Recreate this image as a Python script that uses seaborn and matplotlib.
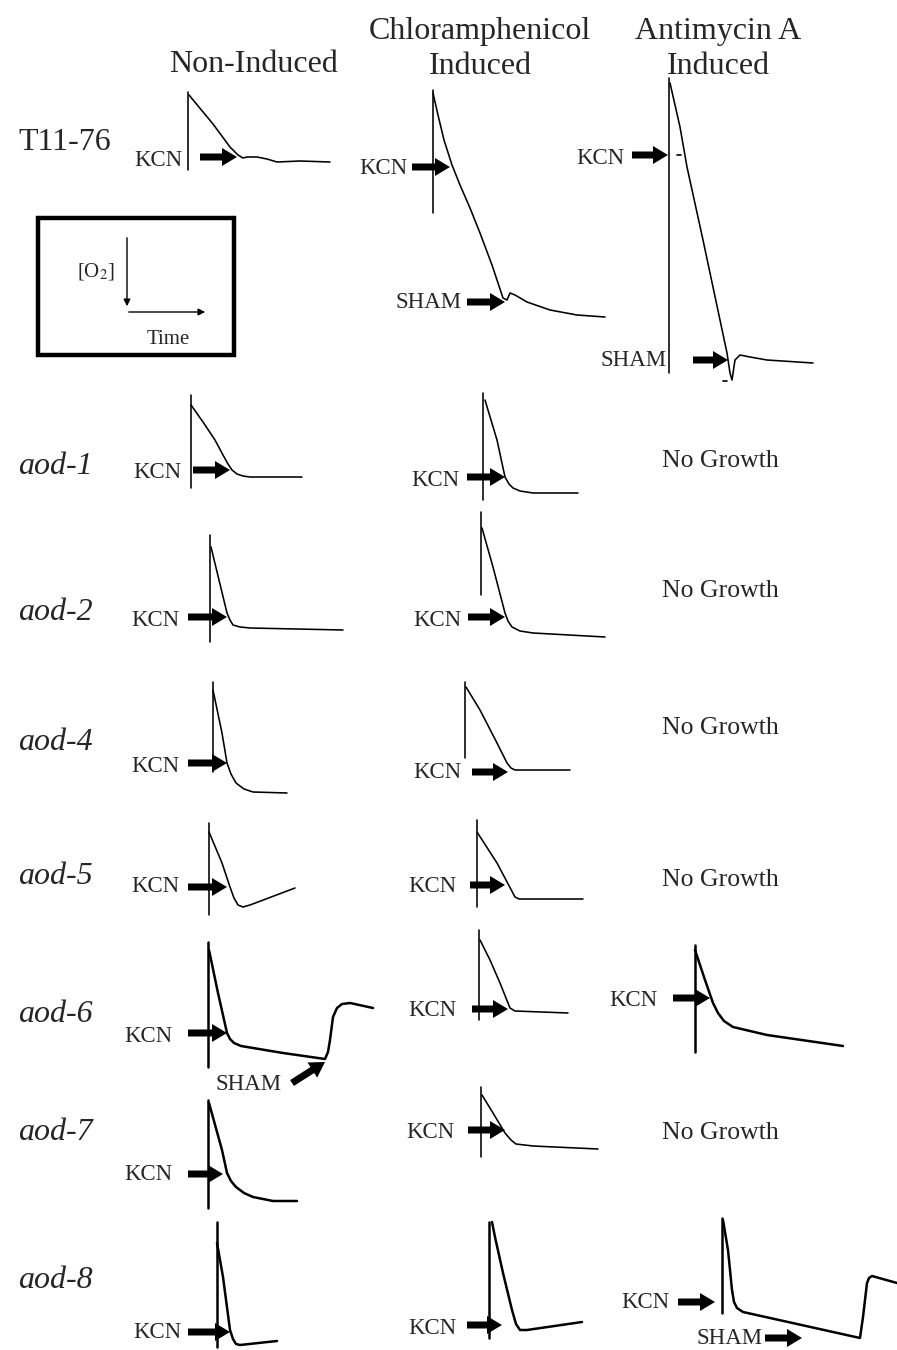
import numpy as np
import seaborn as sns
import pandas as pd
import matplotlib.pyplot as plt
from matplotlib.patches import Rectangle

sns.set_style('white')
plt.rcParams['font.family'] = ['Liberation Serif', 'DejaVu Serif']
plt.rcParams['mathtext.fontset'] = 'stix'

# column headers and strain labels
conditions = ['Non-Induced', 'Chloramphenicol\nInduced', 'Antimycin A\nInduced']
strains = ['T11-76', 'aod-1', 'aod-2', 'aod-4', 'aod-5', 'aod-6', 'aod-7', 'aod-8']

# O2 electrode traces (page pixels: x = time, y = [O2] downward)
# mark = injection marker line (x, top, bottom)
t11_non = dict(x=[189, 213, 230, 238, 243, 247, 257, 267, 277, 300, 330],
               y=[95, 124, 147, 155, 158, 157, 157, 159, 162, 161, 162], mark=(188, 92, 170))
t11_chl = dict(x=[433, 438, 444, 452, 460, 470, 480, 492, 503, 507, 510, 515, 527, 550, 577, 605],
               y=[93, 115, 140, 165, 185, 208, 233, 265, 298, 300, 293, 295, 302, 310, 315, 317],
               mark=(433, 90, 213))
t11_aa = dict(x=[670, 680, 687, 703, 727, 730, 732, 735, 740, 750, 767, 813],
              y=[83, 127, 167, 240, 353, 373, 380, 360, 355, 357, 360, 363], mark=(669, 78, 373))
aod1_non = dict(x=[191, 203, 215, 223, 228, 232, 237, 243, 250, 270, 302],
                y=[405, 422, 440, 455, 464, 470, 474, 476, 477, 477, 477], mark=(191, 395, 488))
aod1_chl = dict(x=[485, 497, 505, 509, 513, 520, 533, 578],
                y=[400, 440, 477, 484, 488, 491, 493, 493], mark=(483, 393, 500))
aod2_non = dict(x=[211, 227, 230, 233, 240, 250, 343],
                y=[547, 613, 620, 625, 627, 628, 630], mark=(210, 535, 642))
aod2_chl = dict(x=[482, 493, 505, 508, 512, 520, 533, 605],
                y=[528, 567, 613, 621, 627, 631, 633, 637], mark=(481, 512, 595))
aod4_non = dict(x=[213, 222, 227, 231, 236, 244, 253, 287],
                y=[690, 733, 763, 774, 783, 789, 792, 793], mark=(213, 682, 772))
aod4_chl = dict(x=[466, 480, 497, 507, 511, 515, 570],
                y=[687, 710, 743, 763, 768, 770, 770], mark=(465, 682, 758))
aod5_non = dict(x=[209, 222, 230, 234, 238, 243, 250, 295],
                y=[832, 863, 887, 898, 905, 907, 905, 888], mark=(209, 823, 915))
aod5_chl = dict(x=[477, 497, 515, 519, 523, 583],
                y=[832, 863, 897, 899, 899, 899], mark=(477, 820, 907))
aod6_non = dict(x=[209, 218, 227, 230, 234, 241, 253, 283, 325, 328, 330, 333, 337, 342, 350, 373],
                y=[950, 993, 1033, 1039, 1043, 1046, 1048, 1053, 1059, 1052, 1040, 1017, 1008, 1004, 1003, 1008],
                mark=(208, 942, 1067))
aod6_chl = dict(x=[480, 490, 500, 510, 515, 568],
                y=[940, 960, 983, 1008, 1011, 1013], mark=(479, 930, 1020))
aod6_aa = dict(x=[695, 705, 713, 718, 724, 733, 767, 843],
               y=[950, 980, 1003, 1013, 1021, 1027, 1035, 1046], mark=(695, 945, 1052))
aod7_non = dict(x=[209, 222, 227, 231, 236, 244, 253, 273, 297],
                y=[1103, 1150, 1173, 1181, 1187, 1193, 1197, 1201, 1201], mark=(208, 1100, 1208))
aod7_chl = dict(x=[482, 493, 505, 511, 516, 533, 598],
                y=[1095, 1113, 1133, 1140, 1144, 1146, 1149], mark=(481, 1087, 1157))
aod8_non = dict(x=[217, 223, 230, 233, 236, 240, 277],
                y=[1243, 1277, 1330, 1339, 1344, 1345, 1341], mark=(217, 1222, 1347))
aod8_chl = dict(x=[492, 495, 503, 512, 516, 520, 527, 582],
                y=[1222, 1237, 1273, 1310, 1324, 1330, 1330, 1322], mark=(489, 1222, 1338))
aod8_aa = dict(x=[723, 728, 732, 734, 737, 743, 860, 863, 867, 869, 872, 897],
               y=[1220, 1250, 1290, 1302, 1308, 1312, 1338, 1317, 1283, 1278, 1276, 1283],
               mark=(722, 1218, 1313))

thin = [t11_non, t11_chl, t11_aa, aod1_non, aod1_chl, aod2_non, aod2_chl,
        aod4_non, aod4_chl, aod5_non, aod5_chl, aod6_chl, aod7_chl]
thick = [aod6_non, aod6_aa, aod7_non, aod8_non, aod8_chl, aod8_aa]

fig = plt.figure(figsize=(8.97, 13.5), dpi=100)
ax = fig.add_axes([0, 0, 1, 1])

for group, lw in [(thin, 1.15), (thick, 1.8)]:
    for tr in group:
        df = pd.DataFrame({'t': tr['x'], 'o2': tr['y']})
        sns.lineplot(data=df, x='t', y='o2', sort=False, estimator=None,
                     color='black', lw=lw, ax=ax)
        mx, y0, y1 = tr['mark']
        ax.plot([mx, mx], [y0, y1], color='black', lw=lw)

# small tick marks on the antimycin trace
ax.plot([677, 681], [155, 155], color='black', lw=1.2)
ax.plot([723, 727], [381, 381], color='black', lw=1.2)

ax.set_xlim(0, 897)
ax.set_ylim(1350, 0)
ax.axis('off')

dy = 3  # nudge text centres down to match the page

# headers
ax.text(254, 62 + dy, 'Non-Induced', fontsize=23, ha='center', va='center')
ax.text(480, 28 + dy, 'Chloramphenicol', fontsize=23, ha='center', va='center')
ax.text(480, 64 + dy, 'Induced', fontsize=23, ha='center', va='center')
ax.text(718, 28 + dy, 'Antimycin A', fontsize=23, ha='center', va='center')
ax.text(718, 64 + dy, 'Induced', fontsize=23, ha='center', va='center')

# strain labels
label_y = [140, 463, 610, 740, 873, 1012, 1130, 1278]
for s, yy in zip(strains, label_y):
    ax.text(18, yy + dy, s, fontsize=23, ha='left', va='center',
            style='normal' if s == 'T11-76' else 'italic')

for yy in [458, 588, 725, 877, 1130]:
    ax.text(720, yy + dy, 'No Growth', fontsize=18.5, ha='center', va='center')


def block_arrow(x0, y0, x1, y1):
    ax.arrow(x0, y0, x1 - x0, y1 - y0, width=7, head_width=18, head_length=15,
             length_includes_head=True, color='black', lw=0)


# (label, text right edge, text y, arrow tail x, tail y, head x, head y)
injections = [
    ('KCN', 183, 157, 200, 157, 237, 157),
    ('KCN', 408, 166, 412, 167, 450, 167),
    ('SHAM', 462, 300, 467, 302, 505, 302),
    ('KCN', 625, 155, 632, 155, 668, 155),
    ('SHAM', 667, 357, 693, 360, 728, 360),
    ('KCN', 182, 470, 193, 470, 230, 470),
    ('KCN', 460, 477, 467, 477, 505, 477),
    ('KCN', 180, 617, 188, 617, 227, 617),
    ('KCN', 462, 617, 468, 617, 505, 617),
    ('KCN', 180, 763, 188, 763, 227, 763),
    ('KCN', 462, 770, 472, 772, 508, 772),
    ('KCN', 180, 884, 188, 887, 227, 887),
    ('KCN', 457, 884, 470, 885, 505, 885),
    ('KCN', 173, 1033, 188, 1033, 227, 1033),
    ('KCN', 457, 1008, 472, 1009, 508, 1009),
    ('KCN', 658, 997, 673, 998, 710, 998),
    ('KCN', 173, 1172, 188, 1174, 223, 1174),
    ('KCN', 455, 1130, 468, 1130, 505, 1130),
    ('KCN', 182, 1330, 188, 1332, 230, 1332),
    ('KCN', 457, 1325, 467, 1325, 502, 1325),
    ('KCN', 670, 1300, 678, 1302, 715, 1302),
    ('SHAM', 763, 1335, 765, 1338, 802, 1338),
    ('SHAM', 282, 1082, 292, 1083, 325, 1062),
]
for lab, tx, ty, ax0, ay0, ax1, ay1 in injections:
    ax.text(tx, ty + dy, lab, fontsize=16.5, ha='right', va='center')
    block_arrow(ax0, ay0, ax1, ay1)

# axis key box
ax.add_patch(Rectangle((38, 218), 196, 137, fill=False, lw=3.2, ec='black'))
ax.annotate('', xy=(127, 309), xytext=(127, 235),
            arrowprops=dict(arrowstyle='-|>', color='black', lw=1.0, mutation_scale=10))
ax.annotate('', xy=(208, 312), xytext=(126, 312),
            arrowprops=dict(arrowstyle='-|>', color='black', lw=1.0, mutation_scale=10))
ax.text(96, 268 + dy, '[O$_2$]', fontsize=15, ha='center', va='center')
ax.text(168, 337 + dy, 'Time', fontsize=15, ha='center', va='center')

plt.savefig('out.png', dpi=100)
